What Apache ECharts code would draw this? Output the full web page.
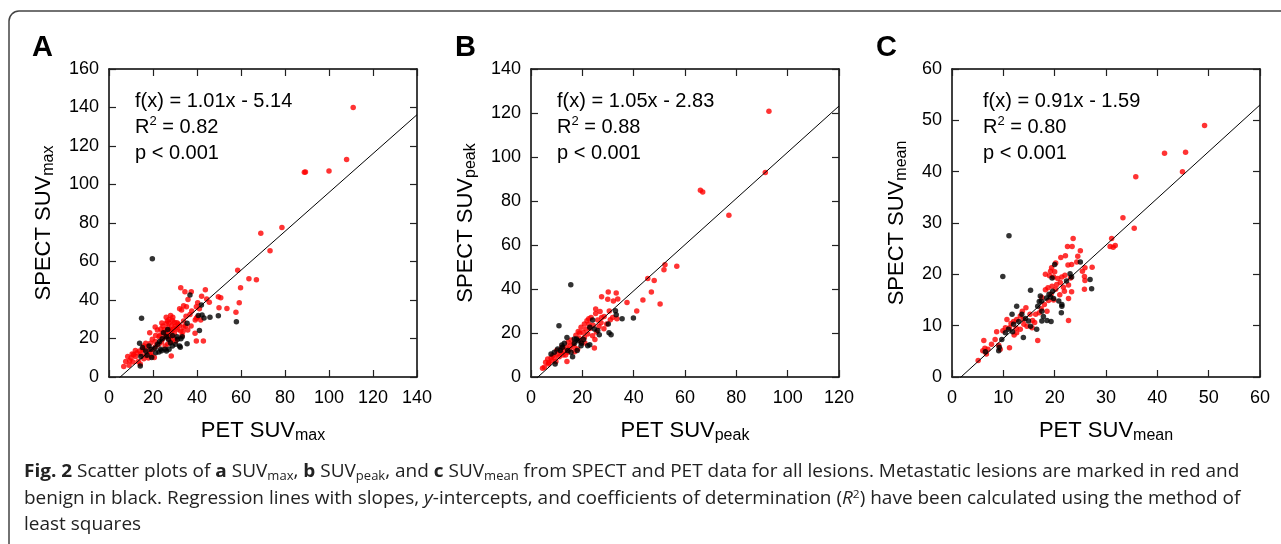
<!DOCTYPE html>
<html>
<head>
<meta charset="utf-8">
<script src="https://cdn.jsdelivr.net/npm/echarts@6/dist/echarts.min.js"></script>
<style>
html, body { margin: 0; padding: 0; background: #fff; }
#chart { position: absolute; left: 0; top: 0; width: 1281px; height: 544px; }
#caption { position: absolute; left: 24px; top: 457px; font-family: "Open Sans"; font-size: 17.5px; line-height: 26.5px;
  color: #222; white-space: nowrap; transform: scaleX(1.085); transform-origin: 0 0; }
#caption sub { font-size: 12px; vertical-align: -3px; line-height: 0; }
#caption sup { font-size: 11px; vertical-align: 6px; line-height: 0; }
</style>
</head>
<body>
<div id="chart"></div>
<div id="caption"><b>Fig. 2</b> Scatter plots of <b>a</b> SUV<sub>max</sub>, <b>b</b> SUV<sub>peak</sub>, and <b>c</b> SUV<sub>mean</sub> from SPECT and PET data for all lesions. Metastatic lesions are marked in red and<br>benign in black. Regression lines with slopes, <i>y</i>-intercepts, and coefficients of determination (<i>R</i><sup>2</sup>) have been calculated using the method of<br>least squares</div>
<script>
// panel A: SUVmax  [PET, SPECT]
var maxRed = [[111,140],[108,113],[100,107],[88.8,106.3],[89.3,106.5],[78.6,77.7],[69,74.7],[73.2,65.6],[58.5,55.5],[63.6,51],[67,50.5],[59.8,46.4],[59.2,38.6],[57.7,33.7],[53.6,35.6],[49.7,41.7],[50.8,41.2],[50,36],[43.8,45.3],[44.4,40.5],[45.6,38.8],[42.1,42],[40.3,38.6],[39.7,36.5],[41.1,35.5],[40.2,31.2],[41.7,29.6],[39.1,22.7],[42.9,18.7],[39.7,18.7],[32.6,46.4],[34.5,44.3],[37.4,44.3],[35.9,40.3],[33.9,37],[35.2,36.5],[32.1,35.5],[33,34.8],[37.6,34.3],[36.8,32.5],[39.2,29.6],[39.7,30.5],[33.9,29.1],[34.8,26.5],[37.3,26.5],[35.8,24.4],[32.6,23.9],[33.6,23.7],[33.2,21.6],[33.9,26],[28.3,10.9],
  [28,32],[27.3,29.9],[26.5,29.1],[26.1,27.9],[28.8,29.4],[29.7,28.5],[30.9,28.2],[27.3,27.9],[28.5,26.8],[30,26.5],[26.7,25.6],[27.9,24.7],[25.2,24.7],[25.8,23.4],[24.2,23],[26.7,22.2],[28.5,23.9],[29.7,22.7],[31.2,24.7],[32.1,26.8],[25.5,20.9],[27.3,19.6],[29.7,19.9],[28.2,20.9],[24.2,19.6],[22.7,20.9],[22,24.4],[18.5,23],[21.2,21.6],[19.7,19.6],[18.8,17.5],[16.7,17.5],[15.8,16.1],[17.6,15.8],[15.2,14.4],[13.9,13.5],[12.7,12.6],[11.2,11.6],[12.1,10.6],[10,9.9],[9.4,8.5],[8.5,10.6],[7.6,8.1],[6.7,5.4],[10.9,7.8],[13.3,8.1],[14.2,6.8],[9.1,6.1],[16.7,11.3],[18.2,13.3],[20,14.4],[21.2,15.8],[22.7,17],[23.9,18.2],[25.5,16.1],[26.7,17.2],[28.2,18.2],[30.3,18.7],[20.6,10.1],[19.4,10.9],[17.9,9.9],[15.8,9.5],[23.5,25],[24.5,26.5],[26,31],[29,31],[12,13.8],[14.5,12],[10.5,12],[16,14],[19,12.5],[21,18.5],[23,21.5],[26,21],[27.5,21.5],[29,24.5],[30.5,25.5],[31.5,27.5],[35,31.5],[24,28],[21,26]];
var maxBlack = [[19.7,61.4],[57.9,28.7],[49.7,31.8],[45.9,31],[42,37.4],[42.3,32.2],[40.6,32],[43.2,30.6],[41.1,24.2],[36.8,42.6],[35.5,27.9],[32.7,19.9],[33.3,20.9],[32.1,16.1],[35.5,17.3],[14.8,30.5],[13.9,17.5],[15.2,15.3],[16.7,13.5],[18.2,16.1],[19.1,14.4],[20.9,15.1],[22.1,17],[23,18.5],[24.2,19.9],[26.1,20.9],[27.9,17.8],[25.5,14.4],[23.9,13.7],[22.7,13],[21.2,12.6],[19.4,10.1],[17.3,11.3],[14.5,10.6],[14.2,5.7],[27,19.6],[28.8,21.6],[30.9,20.9],[31.2,19.6],[32.4,15.4],[28.8,16.1],[30.3,17],[27.3,14.4],[26.1,13.5],[23.5,14.4],[24.8,23],[26.7,24.7]];

// panel B: SUVpeak
var peakRed = [[92.7,120.8],[91.3,92.9],[66,84.9],[66.9,84.1],[77.1,73.5],[56.8,50.3],[52.2,51],[51.8,48.7],[45.5,44.8],[48,43.9],[46.9,38.6],[43.6,35],[50.3,33.2],[41.2,30],[37.4,33.9],[30.1,38.6],[33.2,38.2],[27.5,36.5],[29.9,35.3],[32.1,34.5],[33.8,35.4],[25.2,30.9],[26.9,29.8],[25.2,28.9],[31.8,27.1],[30.9,26],[33.5,26.5],[29.5,24.1],[28.4,21.9],[27.5,27.1],[26,25.9],[27.3,24.7],[23.4,27.1],[21.8,25.6],[20.8,24.1],[22.6,24.1],[24.2,23.5],[21.4,21.8],[19.5,22.6],[18.4,20.7],[20.3,20.3],[22.1,19.5],[24,18.8],[24.9,17.1],[20.8,18],[15.6,16.8],[14.5,15.8],[15.3,14.2],[13.6,13.5],[16.9,13.5],[18.2,12.7],[13,12],[14.3,11.2],[11.7,11.2],[10.4,10.5],[11,9.2],[9.1,8.9],[7.8,8.6],[6.5,8.2],[8.1,7.4],[9.7,7.1],[5.7,6.7],[6.8,5.9],[5.2,4.4],[14,7.1],[24.7,13.2],
  [17.5,19],[18.8,17.5],[16.5,15],[12.5,10],[10,12],[12,13.5],[17,11.5],[19.5,16],[21,15.5],[23,22],[25.5,20.5],[28.5,27.5],[30.5,30],[26.5,23],[22.5,26.5],[8.5,9.8],[7,6.5],[4.5,4],[15,12.5],[19,20],[13.5,10]];
var peakBlack = [[15.5,41.9],[10.9,23.3],[39.9,26.8],[35.5,26.5],[32.9,30.1],[33.2,28.3],[30.1,24.1],[30.4,20.1],[31.2,19.2],[24,25.9],[22.9,22.6],[24.7,21.8],[26,21.1],[26.6,19.2],[17.7,17.3],[18.4,16.5],[16.9,15.3],[19.7,15.3],[22.1,14.2],[22.9,14.7],[14,18],[13,15.3],[12.3,13.5],[10.4,12.7],[11.4,12],[9.1,11.2],[7.8,10.5],[9.4,5.9],[14.3,12],[15.6,11.2],[16.2,9.2],[19.5,14.2],[16.9,17.3],[20.5,17],[12,14.5],[18,12]];

// panel C: SUVmean
var meanRed = [[49.2,49],[45.5,43.8],[41.4,43.6],[44.9,40],[35.8,39],[33.3,31],[35.5,29],[31.1,27],[30.8,25.4],[31.4,25.3],[31.8,25.6],
  [23.6,27],[22.5,25.4],[23.4,25.4],[25,24.6],[21.2,23.3],[22.1,23.6],[24.3,22.4],[23.3,21.9],[22.6,21.8],[25.9,21.3],[25.4,20.6],[27.3,21.4],[19.4,21.3],[19.2,20.6],[20.2,22.2],[18.2,20],[19,19.7],[19.8,19.5],[20.6,19.2],[21.4,19.5],[22,19.8],[23.1,19.3],[25.8,19.6],[25.9,18.8],
  [21.1,18.4],[20.4,18],[19.5,17.7],[18.7,17.4],[18.2,17],[20.2,17.1],[21.7,17.5],[22.7,17.9],[21.9,16.7],[23.3,16.6],[25.8,17.1],[22.7,15.3],[19.3,16.1],[18.8,14.9],[18,14.1],[18.5,12.8],[17.4,13.3],[16.3,12.2],[15.7,11],[16.1,10.6],[15.2,12.2],[14.4,13.5],[13.7,12.8],[13.3,11.9],[13.9,11.2],[12.6,11.2],[12,10.8],[11.5,10.4],[10.7,11.2],[11.2,9.6],[10.4,9.6],[9.9,9],[8.7,8.8],[8.4,7.3],[7.7,6.4],[7,5.4],[6.4,5.6],[6.2,7.1],[6,5.1],[5.1,3.2],[6.7,4.5],[9.1,6.2],[9.4,5.4],[11.2,5.7],[12.1,8.2],[16.7,7.1],[22.7,11],[14.6,9.9],[15.6,9.6],[12.6,8.6],[13.3,9.3],
  [17.5,15.5],[19.8,15],[21,16],[20,20.5],[24.5,23.5],[17,12.5],[14,10.3],[12.5,9.5]];
var meanBlack = [[11.1,27.5],[9.9,19.6],[25,22.4],[20,21.9],[23.3,19.5],[22.3,18.7],[23,20.1],[26.9,19],[27.2,17.2],[19.5,19.3],[19.6,16.7],[18.9,16.1],[18.4,15.4],[19.2,15.6],[19.8,15.3],[20.8,14.8],[21.4,13.8],[21.3,12.5],[17.2,15.8],[17,14.7],[17.5,12.8],[17.8,11.8],[19.3,10.8],[15.3,16.9],[16.7,13.8],[15.3,9.9],[13.9,7.7],[11.7,12.2],[12.6,13.8],[13.6,12.2],[14.3,11.4],[14.9,10.9],[11.8,8.8],[11,9.3],[10.4,8.6],[9.7,7.3],[9.1,5.1],[9.2,5.8],[6.5,4.9],[16.5,9.3],[17.5,10.9],[18.5,11],[12,10.3],[13,10.8],[17.4,14.8],[21.4,14.1]];

// regression fits and axes
var slopes = [1.01, 1.05, 0.91];
var intercepts = [-5.14, -2.83, -1.59];
var rSquared = ['0.82', '0.88', '0.80'];
var xMax = [140, 120, 60];
var yMax = [160, 140, 60];
var steps = [20, 20, 10];
var subs = ['max', 'peak', 'mean'];
var letters = ['A', 'B', 'C'];

var redSets = [maxRed, peakRed, meanRed];
var blackSets = [maxBlack, peakBlack, meanBlack];

var font = 'Liberation Sans, Arial, Helvetica, sans-serif';
var gridLeft = [109, 531, 952];
var nameGapY = [52, 52, 42];
var textLeft = [135, 557, 983];
var letterLeft = [32, 455, 876];

var chart = echarts.init(document.getElementById('chart'));

function axisName(t, s) {
    return '{m|' + t + '}{s|' + s + '}';
}
var nameRich = {
    m: { fontSize: 22, lineHeight: 26, fontFamily: font, color: '#000' },
    s: { fontSize: 16, lineHeight: 14, verticalAlign: 'bottom', fontFamily: font, color: '#000' }
};

var grids = [], xAxes = [], yAxes = [], series = [], graphics = [];

// outer frame with rounded top-left corner
graphics.push({
    type: 'rect', silent: true,
    shape: { x: 9, y: 11, width: 1400, height: 700, r: [10, 0, 0, 0] },
    style: { fill: null, stroke: '#444', lineWidth: 1.5 }
});

for (var i = 0; i < 3; i++) {
    grids.push({ left: gridLeft[i], top: 69, width: 308, height: 308 });
    var common = {
        type: 'value', gridIndex: i, min: 0, interval: steps[i],
        axisLine: { show: true, onZero: false, lineStyle: { color: '#000', width: 1.5 } },
        axisTick: { show: true, inside: true, length: 7, lineStyle: { color: '#222', width: 1.2 } },
        splitLine: { show: false }
    };
    xAxes.push(Object.assign({}, common, {
        max: xMax[i], position: 'bottom',
        axisLabel: { fontSize: 18, color: '#000', margin: 12, fontFamily: font },
        name: axisName('PET SUV', subs[i]), nameLocation: 'middle', nameGap: 41,
        nameTextStyle: { rich: nameRich }
    }));
    xAxes.push(Object.assign({}, common, {
        max: xMax[i], position: 'top', axisLabel: { show: false }
    }));
    yAxes.push(Object.assign({}, common, {
        max: yMax[i], position: 'left',
        axisLabel: { fontSize: 18, color: '#000', margin: 10, fontFamily: font },
        name: axisName('SPECT SUV', subs[i]), nameLocation: 'middle', nameGap: nameGapY[i],
        nameTextStyle: { rich: nameRich }
    }));
    yAxes.push(Object.assign({}, common, {
        max: yMax[i], position: 'right', axisLabel: { show: false }
    }));

    series.push({
        type: 'scatter', xAxisIndex: 2 * i, yAxisIndex: 2 * i,
        data: redSets[i], symbolSize: 5.5, itemStyle: { color: '#ff0000' }, silent: true
    });
    series.push({
        type: 'scatter', xAxisIndex: 2 * i, yAxisIndex: 2 * i,
        data: blackSets[i], symbolSize: 5.5, itemStyle: { color: '#000' }, silent: true
    });
    series.push({
        type: 'line', xAxisIndex: 2 * i, yAxisIndex: 2 * i, clip: true,
        data: [[0, intercepts[i]], [xMax[i], slopes[i] * xMax[i] + intercepts[i]]],
        symbol: 'none', lineStyle: { color: '#000', width: 1 }, silent: true
    });

    var sign = intercepts[i] < 0 ? ' - ' : ' + ';
    graphics.push({
        type: 'text', x: textLeft[i], y: 101,
        style: { text: 'f(x) = ' + slopes[i].toFixed(2) + 'x' + sign + Math.abs(intercepts[i]).toFixed(2),
            font: '20px ' + font, fill: '#000', verticalAlign: 'middle' }
    });
    graphics.push({
        type: 'text', x: textLeft[i], y: 127,
        style: { text: '{t|R}{p|2}{t| = ' + rSquared[i] + '}', verticalAlign: 'middle', fill: '#000',
            rich: {
                t: { fontSize: 20, lineHeight: 24, fontFamily: font, fill: '#000' },
                p: { fontSize: 13, lineHeight: 12, verticalAlign: 'top', fontFamily: font, fill: '#000' }
            } }
    });
    graphics.push({
        type: 'text', x: textLeft[i], y: 153,
        style: { text: 'p < 0.001', font: '20px ' + font, fill: '#000', verticalAlign: 'middle' }
    });
    graphics.push({
        type: 'text', x: letterLeft[i], y: 33,
        style: { text: letters[i], font: 'bold 29px ' + font, fill: '#000', verticalAlign: 'top' }
    });
}

var option = {
    animation: false,
    grid: grids,
    xAxis: xAxes,
    yAxis: yAxes,
    series: series,
    graphic: graphics
};
chart.setOption(option);
</script>
</body>
</html>
